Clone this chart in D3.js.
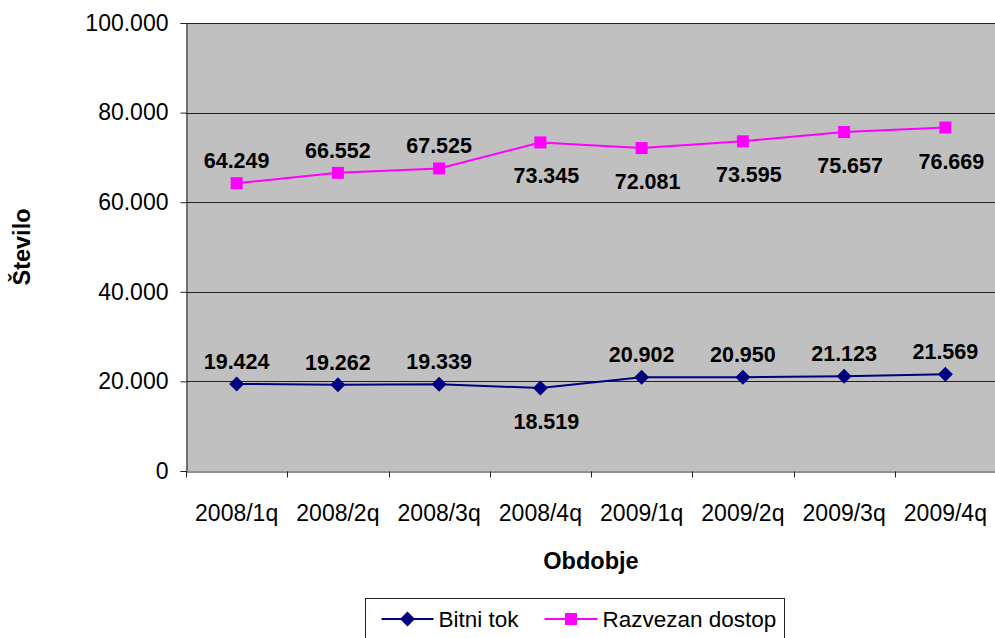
<!DOCTYPE html>
<html>
<head>
<meta charset="utf-8">
<script src="https://cdn.jsdelivr.net/npm/d3@7"></script>
<style>
  body { margin: 0; background: #fff; }
  text { font-family: "Liberation Sans", Arial, sans-serif; fill: #000; }
</style>
</head>
<body>
<div id="chart"></div>
<script>
// DATA
const categories = ["2008/1q", "2008/2q", "2008/3q", "2008/4q", "2009/1q", "2009/2q", "2009/3q", "2009/4q"]
const bitniTok = [19424, 19262, 19339, 18519, 20902, 20950, 21123, 21569]
const razvezanDostop = [64249, 66552, 67525, 73345, 72081, 73595, 75657, 76669]
// where Excel put each data label: "above" or "below" the point
const bitniTokLabelSide = ["above", "above", "above", "below", "above", "above", "above", "above"]
const razvezanLabelSide = ["above", "above", "above", "below", "below", "below", "below", "below"]
const yTicks = [0, 20000, 40000, 60000, 80000, 100000]

const series = [
  { name: "Bitni tok", values: bitniTok, sides: bitniTokLabelSide, color: "#000080", marker: "diamond" },
  { name: "Razvezan dostop", values: razvezanDostop, sides: razvezanLabelSide, color: "#FF00FF", marker: "square" },
]

// DIMENSIONS
let dimensions = {
  width: 995,
  height: 638,
  margin: { top: 23, right: -1, bottom: 167, left: 186 },
}
dimensions.boundedWidth = dimensions.width - dimensions.margin.left - dimensions.margin.right
dimensions.boundedHeight = dimensions.height - dimensions.margin.top - dimensions.margin.bottom

// slovenian number format: 20.000
const fmt = (d) => d3.format(",")(d).replace(/,/g, ".")

const wrapper = d3.select("#chart")
  .append("svg")
  .attr("width", dimensions.width)
  .attr("height", dimensions.height)

const bounds = wrapper.append("g")
  .attr("transform", `translate(${dimensions.margin.left},${dimensions.margin.top})`)

// SCALES
const xScale = d3.scaleBand()
  .domain(categories)
  .range([0, dimensions.boundedWidth])
  .padding(0)

const yScale = d3.scaleLinear()
  .domain([0, 100000])
  .range([dimensions.boundedHeight, 0])

const xPos = (i) => xScale(categories[i]) + xScale.bandwidth() / 2

// plot background
bounds.append("rect")
  .attr("width", dimensions.boundedWidth)
  .attr("height", dimensions.boundedHeight)
  .attr("fill", "#C0C0C0")

// gridlines
bounds.append("g")
  .selectAll("line")
  .data(yTicks.filter((d) => d > 0))
  .join("line")
  .attr("x1", 0)
  .attr("x2", dimensions.boundedWidth)
  .attr("y1", (d) => Math.round(yScale(d)) + 0.5)
  .attr("y2", (d) => Math.round(yScale(d)) + 0.5)
  .attr("stroke", "#222")
  .attr("stroke-width", 1)

// Y AXIS
const yAxis = bounds.append("g")
  .attr("transform", "translate(0.5,0)")
  .call(d3.axisLeft(yScale).tickValues(yTicks).tickFormat(fmt).tickSize(6).tickPadding(12))
yAxis.select(".domain").attr("stroke", "#222")
yAxis.selectAll(".tick line").attr("stroke", "#222")
yAxis.selectAll(".tick text")
  .style("font-size", "23px")
  .style("font-family", "'Liberation Sans', Arial, sans-serif")
  .attr("fill", "#000")

// X AXIS
const xAxis = bounds.append("g")
  .attr("transform", `translate(0,${dimensions.boundedHeight + 0.5})`)
  .call(d3.axisBottom(xScale).tickSize(0).tickPadding(33))
xAxis.select(".domain").attr("stroke", "#222")
xAxis.selectAll(".tick text")
  .style("font-size", "23px")
  .style("font-family", "'Liberation Sans', Arial, sans-serif")
  .attr("fill", "#000")
// tick marks between categories
xAxis.append("g")
  .selectAll("line")
  .data(categories)
  .join("line")
  .attr("x1", (d) => Math.round(xScale(d)) + 0.5)
  .attr("x2", (d) => Math.round(xScale(d)) + 0.5)
  .attr("y1", 0)
  .attr("y2", 6)
  .attr("stroke", "#222")

// axis titles
bounds.append("text")
  .attr("x", dimensions.boundedWidth / 2)
  .attr("y", dimensions.boundedHeight + 98)
  .attr("text-anchor", "middle")
  .style("font-size", "23.5px")
  .style("font-weight", "bold")
  .text("Obdobje")

bounds.append("text")
  .attr("transform", `translate(${-dimensions.margin.left + 30},${dimensions.boundedHeight / 2}) rotate(-90)`)
  .attr("text-anchor", "middle")
  .style("font-size", "23.5px")
  .style("font-weight", "bold")
  .text("Število")

// MARKERS
const drawMarker = (sel, type, color) => {
  if (type === "diamond") {
    sel.append("path")
      .attr("d", "M0,-7.5L7.5,0L0,7.5L-7.5,0Z")
      .attr("fill", color)
  } else {
    sel.append("rect")
      .attr("x", -6).attr("y", -6)
      .attr("width", 12).attr("height", 12)
      .attr("fill", color)
  }
}

const lineGen = d3.line()
  .x((d, i) => xPos(i))
  .y((d) => yScale(d))

series.forEach((s) => {
  const g = bounds.append("g")
  g.append("path")
    .datum(s.values)
    .attr("d", lineGen)
    .attr("fill", "none")
    .attr("stroke", s.color)
    .attr("stroke-width", 2)

  g.selectAll(".pt")
    .data(s.values)
    .join("g")
    .attr("class", "pt")
    .attr("transform", (d, i) => `translate(${xPos(i)},${yScale(d)})`)
    .each(function () { drawMarker(d3.select(this), s.marker, s.color) })

  g.selectAll(".lbl")
    .data(s.values)
    .join("text")
    .attr("class", "lbl")
    .attr("x", (d, i) => xPos(i) + (s.sides[i] === "above" ? 0 : 6))
    .attr("y", (d, i) => yScale(d) + (s.sides[i] === "above" ? -15 : 41))
    .attr("text-anchor", "middle")
    .style("font-size", "21.5px")
    .style("font-weight", "bold")
    .text((d) => fmt(d))
})

// LEGEND
const legend = wrapper.append("g")
  .attr("transform", "translate(365.5,598.5)")
legend.append("rect")
  .attr("width", 419)
  .attr("height", 50)
  .attr("fill", "#fff")
  .attr("stroke", "#222")

const legendItems = [
  { s: series[0], x: 16, w: 52, tx: 73 },
  { s: series[1], x: 179, w: 53, tx: 237 },
]
legendItems.forEach((it) => {
  const li = legend.append("g").attr("transform", `translate(${it.x},20.5)`)
  li.append("line")
    .attr("x1", 0).attr("x2", it.w)
    .attr("stroke", it.s.color)
    .attr("stroke-width", 2)
  const m = li.append("g").attr("transform", `translate(${it.w / 2},0)`)
  drawMarker(m, it.s.marker, it.s.color)
  li.append("text")
    .attr("x", it.tx - it.x)
    .attr("y", 8)
    .style("font-size", "22.5px")
    .text(it.s.name)
})
</script>
</body>
</html>
